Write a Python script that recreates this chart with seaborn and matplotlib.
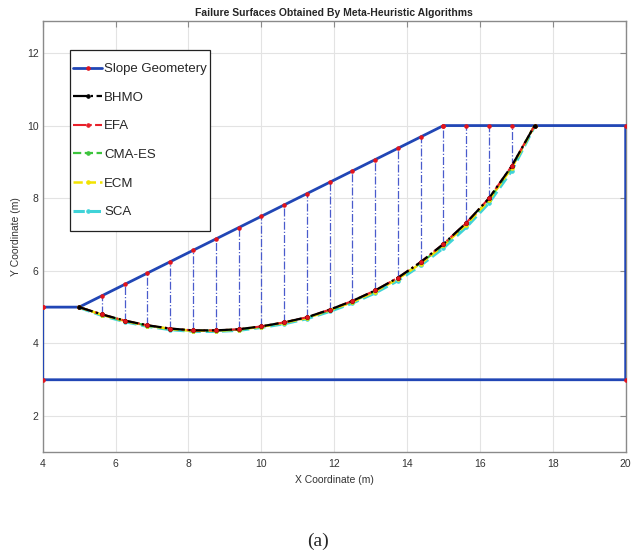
import numpy as np
import matplotlib
matplotlib.use("Agg")
import matplotlib.pyplot as plt
from matplotlib.patches import Rectangle
import seaborn as sns

# Slope geometry outline (closed polygon)
geom_x = [4, 5, 15, 20, 20, 4, 4]
geom_y = [5, 5, 10, 10, 3, 3, 5]

# Slice boundaries along the failure surface
surf_x = [5.0, 5.625, 6.25, 6.875, 7.5, 8.125, 8.75, 9.375, 10.0, 10.625,
          11.25, 11.875, 12.5, 13.125, 13.75, 14.375, 15.0, 15.625, 16.25,
          16.875, 17.5]

# Critical failure surfaces found by each algorithm
bhmo_y = [5.00, 4.80, 4.63, 4.50, 4.41, 4.36, 4.36, 4.39, 4.47, 4.58, 4.72,
          4.93, 5.17, 5.46, 5.81, 6.24, 6.74, 7.32, 8.00, 8.89, 10.00]
efa_y = [5.00, 4.80, 4.63, 4.50, 4.41, 4.36, 4.36, 4.39, 4.47, 4.58, 4.72,
         4.93, 5.17, 5.46, 5.81, 6.24, 6.74, 7.32, 8.00, 8.89, 10.00]
cmaes_y = [5.00, 4.79, 4.62, 4.49, 4.40, 4.35, 4.35, 4.38, 4.46, 4.57, 4.71,
           4.91, 5.15, 5.44, 5.79, 6.21, 6.71, 7.28, 7.96, 8.85, 10.00]
ecm_y = [5.00, 4.79, 4.62, 4.49, 4.40, 4.35, 4.35, 4.38, 4.46, 4.57, 4.70,
         4.91, 5.14, 5.43, 5.78, 6.20, 6.70, 7.27, 7.95, 8.84, 10.00]
sca_y = [4.99, 4.77, 4.60, 4.47, 4.38, 4.33, 4.33, 4.36, 4.44, 4.54, 4.68,
         4.88, 5.11, 5.39, 5.73, 6.15, 6.63, 7.20, 7.87, 8.76, 9.98]

x_ticks = [4, 6, 8, 10, 12, 14, 16, 18, 20]
y_ticks = [2, 4, 6, 8, 10, 12]

sns.set_style("whitegrid")
plt.rcParams["font.family"] = ["Liberation Sans", "DejaVu Sans"]

fig = plt.figure(figsize=(6.37, 5.57), dpi=100)
ax = fig.add_axes([0.067, 0.1885, 0.9152, 0.7738])

BLUE = "#2146b5"
RED = "#e3141c"

# slope outline
sns.lineplot(x=geom_x, y=geom_y, sort=False, estimator=None, ax=ax,
             color=BLUE, linewidth=2.0, marker=".", markersize=5,
             markerfacecolor=RED, markeredgecolor=RED,
             label="Slope Geometery", zorder=4)

# failure surfaces (cyan widest at the bottom, black on top)
series = [
    ("BHMO", bhmo_y, "black", "-.", 1.6, 9),
    ("EFA", efa_y, "#e8202a", "-.", 1.5, 8),
    ("CMA-ES", cmaes_y, "#3cc43c", "--", 1.6, 6),
    ("ECM", ecm_y, "#f2e300", "--", 1.8, 7),
    ("SCA", sca_y, "#3fd3d8", "--", 2.2, 5),
]
for name, ys, col, ls, lw, z in series:
    sns.lineplot(x=surf_x, y=ys, sort=False, estimator=None, ax=ax,
                 color=col, linewidth=lw, linestyle=ls, marker=".",
                 markersize=5, markerfacecolor=col, markeredgecolor=col,
                 label=name, zorder=z)

# vertical slice boundaries between ground surface and failure surface
ground_y = np.interp(surf_x, geom_x[1:4], geom_y[1:4])
inner_x = surf_x[1:-1]
ax.vlines(inner_x, bhmo_y[1:-1], ground_y[1:-1], colors="#4a5bcc",
          linestyles="-.", linewidth=0.9, zorder=3)
ax.plot(inner_x, ground_y[1:-1], linestyle="none", marker=".",
        markersize=4.5, color=RED, zorder=10)
ax.plot(inner_x, bhmo_y[1:-1], linestyle="none", marker=".",
        markersize=4.5, color=RED, zorder=10)

ax.set_xlim(4, 20)
ax.set_ylim(1.01, 12.88)
ax.set_xticks(x_ticks)
ax.set_yticks(y_ticks)
ax.grid(True, color="#e3e3e3", linewidth=0.8)
for s in ax.spines.values():
    s.set_color("#8a8a8a")
    s.set_linewidth(1.0)
ax.tick_params(direction="in", length=4, width=0.8, color="#8a8a8a",
               top=True, right=True, labelsize=7.5, labelcolor="#333333")
ax.tick_params(axis="x", pad=5)
ax.tick_params(axis="y", pad=3)

ax.set_xlabel("X Coordinate (m)", fontsize=7.5, color="#333333", labelpad=4)
ax.set_ylabel("Y Coordinate (m)", fontsize=7.5, color="#333333", labelpad=4)
ax.set_title("Failure Surfaces Obtained By Meta-Heuristic Algorithms",
             fontsize=7.5, fontweight="bold", pad=3.5)

leg = ax.legend(loc="upper left", bbox_to_anchor=(0.0468, 0.9104),
                borderaxespad=0, fontsize=9.5, frameon=False,
                handlelength=2.2, handletextpad=0.15, labelspacing=1.24,
                borderpad=0.25)
leg.set_zorder(30)

# legend box with extra room above and below the entries
fig.canvas.draw()
bb = leg.get_window_extent().transformed(ax.transAxes.inverted())
extra = 9.6 / (0.7738 * 557)
ax.add_patch(Rectangle((bb.x0, bb.y0 - extra), bb.width, bb.height + 2 * extra,
                       transform=ax.transAxes, facecolor="white",
                       edgecolor="#222222", linewidth=0.9, zorder=29))

fig.text(0.5, 0.0287, "(a)", ha="center", va="center", fontsize=14,
         family="Liberation Serif")

fig.savefig("out.png", dpi=100)
